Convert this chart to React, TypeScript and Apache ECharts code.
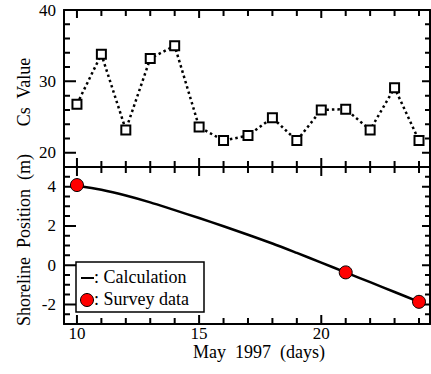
import React, { useEffect, useRef } from "react";
import * as echarts from "echarts";

const days = [10, 11, 12, 13, 14, 15, 16, 17, 18, 19, 20, 21, 22, 23, 24];
const csValues = [26.8, 33.8, 23.2, 33.2, 35.0, 23.6, 21.7, 22.4, 24.9, 21.7, 26.0, 26.1, 23.2, 29.1, 21.7];
const calcValues = [4.05, 3.84, 3.55, 3.2, 2.8, 2.4, 1.98, 1.55, 1.1, 0.62, 0.13, -0.37, -0.87, -1.37, -1.87];
const surveyDays = [10, 21, 24];
const surveyValues = [4.08, -0.37, -1.87];
const xMajor = [10, 15, 20];
const csMajor = [20, 30, 40];
const posMajor = [-2, 0, 2, 4];
const csMinor = [18, 20, 22, 24, 26, 28, 30, 32, 34, 36, 38, 40];
const posMinor = [-3, -2.5, -2, -1.5, -1, -0.5, 0, 0.5, 1, 1.5, 2, 2.5, 3, 3.5, 4, 4.5, 5];

const FONT = "Liberation Serif";
const XMIN = 9.47;
const XMAX = 24.45;

// layout
const L = 64;
const W = 366;
const H = 157;

const black = { color: "#000", width: 2 };
const labelStyle = { color: "#000", fontFamily: FONT, fontSize: 17 };

function xAx(grid: number, pos: string, labels: boolean) {
  return {
    type: "value", gridIndex: grid, position: pos, min: XMIN, max: XMAX,
    axisLine: { show: true, onZero: false, lineStyle: black },
    axisTick: { show: false },
    axisLabel: labels ? { show: true, customValues: xMajor, margin: 1, lineHeight: 17, ...labelStyle } : { show: false },
    splitLine: { show: false },
  };
}

function yAx(grid: number, pos: string, min: number, max: number, labelVals: number[] | null) {
  return {
    type: "value", gridIndex: grid, position: pos, min, max,
    axisLine: { show: true, onZero: false, lineStyle: black },
    axisTick: { show: false },
    axisLabel: labelVals ? { show: true, customValues: labelVals, margin: 8, ...labelStyle } : { show: false },
    splitLine: { show: false },
  };
}

// tick marks as short segments in data space (gaps between them), drawn through the axes' scales
function tickSegments(yMin: number, yMax: number, yMinor: number[], yMajor: number[], topMajorLen: number) {
  const perX = W / (XMAX - XMIN); // px per day
  const perY = H / (yMax - yMin); // px per unit
  const segs: any[] = [];
  days.forEach((d) => {
    const isMaj = xMajor.indexOf(d) >= 0;
    const lb = (isMaj ? 9 : 6) / perY;
    const lt = (isMaj ? topMajorLen : 6) / perY;
    segs.push([d, yMin], [d, yMin + lb], null);
    segs.push([d, yMax], [d, yMax - lt], null);
  });
  yMinor.forEach((v) => {
    const isMaj = yMajor.indexOf(v) >= 0;
    const ll = (isMaj ? 12 : 6) / perX;
    const lr = (isMaj ? 8 : 5) / perX;
    segs.push([XMIN, v], [XMIN + ll, v], null);
    segs.push([XMAX, v], [XMAX - lr, v], null);
  });
  return segs;
}

export default function App() {
  const ref = useRef<HTMLDivElement>(null);
  useEffect(() => {
    if (!ref.current) return;
    const chart = echarts.init(ref.current, null, { renderer: "svg" });
    const tickSeries = (idx: number, data: any[]) => ({
      type: "line",
      xAxisIndex: idx,
      yAxisIndex: idx,
      data,
      symbol: "none",
      connectNulls: false,
      clip: false,
      lineStyle: { color: "#000", width: 2, cap: "butt" },
      z: 3,
    });
    chart.setOption({
      animation: false,
      backgroundColor: "#fff",
      textStyle: { fontFamily: FONT, color: "#000" },
      grid: [
        { left: L, top: 10, width: W, height: H },
        { left: L, top: 10 + H, width: W, height: H },
      ],
      xAxis: [
        xAx(0, "bottom", false),
        xAx(1, "bottom", true),
        xAx(0, "top", false),
        xAx(1, "top", false),
      ],
      yAxis: [
        yAx(0, "left", 18, 40, csMajor),
        yAx(1, "left", -3, 5, posMajor),
        yAx(0, "right", 18, 40, null),
        yAx(1, "right", -3, 5, null),
      ],
      series: [
        tickSeries(0, tickSegments(18, 40, csMinor, csMajor, 8)),
        tickSeries(1, tickSegments(-3, 5, posMinor, posMajor, 9)),
        {
          type: "line",
          xAxisIndex: 0,
          yAxisIndex: 0,
          data: days.map((d, i) => [d, csValues[i]]),
          symbol: "rect",
          symbolSize: 9,
          lineStyle: { color: "#000", width: 2.5, type: [2.5, 3] },
          itemStyle: { color: "#fff", borderColor: "#000", borderWidth: 2 },
          z: 5,
        },
        {
          type: "line",
          xAxisIndex: 1,
          yAxisIndex: 1,
          data: days.map((d, i) => [d, calcValues[i]]),
          symbol: "none",
          smooth: 0.3,
          lineStyle: { color: "#000", width: 2.5 },
          z: 4,
        },
        {
          type: "scatter",
          xAxisIndex: 1,
          yAxisIndex: 1,
          data: surveyDays.map((d, i) => [d, surveyValues[i]]),
          symbol: "circle",
          symbolSize: 13,
          itemStyle: { color: "#ff0000", borderColor: "#000", borderWidth: 1, opacity: 1 },
          z: 6,
        },
      ],
      graphic: [
        {
          type: "text", x: 24, y: 92, rotation: Math.PI / 2,
          style: { text: "Cs  Value", fontFamily: FONT, fontSize: 18, fill: "#000", align: "center", verticalAlign: "middle" },
        },
        {
          type: "text", x: 24, y: 240, rotation: Math.PI / 2,
          style: { text: "Shoreline  Position  (m)", fontFamily: FONT, fontSize: 18, fill: "#000", align: "center", verticalAlign: "middle" },
        },
        {
          type: "text", x: 259, y: 352,
          style: { text: "May  1997  (days)", fontFamily: FONT, fontSize: 18, fill: "#000", align: "center", verticalAlign: "middle" },
        },
        {
          type: "group",
          z: 100,
          children: [
            { type: "rect", shape: { x: 76, y: 262, width: 128, height: 50 }, style: { fill: "#fff", stroke: "#000", lineWidth: 1.5 } },
            { type: "line", shape: { x1: 81, y1: 278, x2: 94, y2: 278 }, style: { stroke: "#000", lineWidth: 2 } },
            { type: "text", x: 94, y: 277, style: { text: ": Calculation", fontFamily: FONT, fontSize: 18, fill: "#000", align: "left", verticalAlign: "middle" } },
            { type: "circle", shape: { cx: 87, cy: 300, r: 6.5 }, style: { fill: "#ff0000", stroke: "#000", lineWidth: 1 } },
            { type: "text", x: 94, y: 299, style: { text: ": Survey data", fontFamily: FONT, fontSize: 18, fill: "#000", align: "left", verticalAlign: "middle" } },
          ],
        },
      ],
    });
    return () => chart.dispose();
  }, []);
  return <div ref={ref} style={{ position: "fixed", left: 0, top: 0, width: 431, height: 374 }} />;
}
